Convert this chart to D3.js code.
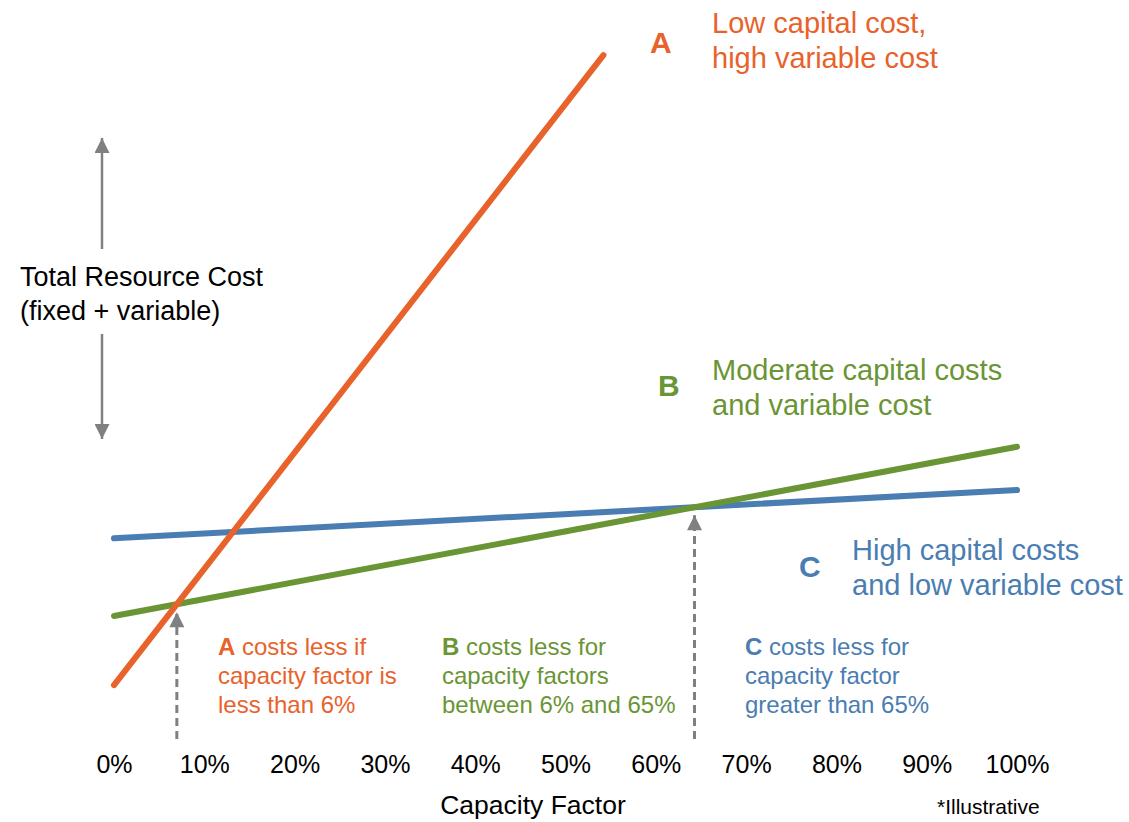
<!DOCTYPE html>
<html>
<head>
<meta charset="utf-8">
<script src="https://cdn.jsdelivr.net/npm/d3@7"></script>
<style>
  html, body { margin: 0; padding: 0; background: #fff; }
  svg text { font-family: "Liberation Sans", Arial, sans-serif; }
</style>
</head>
<body>
<svg id="chart" width="1129" height="822"></svg>
<script>
// Capacity factor (%) tick values and labels
const ticks = [0, 10, 20, 30, 40, 50, 60, 70, 80, 90, 100];
const tickLabels = ticks.map(t => t + "%");

// Illustrative total cost (arbitrary units) at the ends of each resource line
const seriesA = [[0, 10.4], [54.2, 97.9]];
const seriesB = [[0, 20.0], [100, 43.5]];
const seriesC = [[0, 30.8], [100, 37.5]];

const colors = { A: "#E8622B", B: "#6A9535", C: "#4A7DB1" };
const grey = "#808080";

const svg = d3.select("#chart");
const x = d3.scaleLinear().domain([0, 100]).range([114, 1017]);
const y = d3.scaleLinear().domain([0, 100]).range([760, 40]);

const defs = svg.append("defs");
defs.append("marker")
  .attr("id", "head")
  .attr("viewBox", "0 0 10 10")
  .attr("refX", 10).attr("refY", 5)
  .attr("markerUnits", "userSpaceOnUse")
  .attr("markerWidth", 16).attr("markerHeight", 15)
  .attr("orient", "auto")
  .append("path").attr("d", "M0,0 L10,5 L0,10 Z").attr("fill", grey);

// Vertical cost indicator arrows
svg.append("line").attr("x1", 102).attr("x2", 102).attr("y1", 249).attr("y2", 138)
  .attr("stroke", grey).attr("stroke-width", 2.5).attr("marker-end", "url(#head)");
svg.append("line").attr("x1", 102).attr("x2", 102).attr("y1", 334).attr("y2", 439)
  .attr("stroke", grey).attr("stroke-width", 2.5).attr("marker-end", "url(#head)");

svg.append("text").attr("x", 20).attr("y", 286).attr("font-size", 27).attr("fill", "#000")
  .text("Total Resource Cost");
svg.append("text").attr("x", 20).attr("y", 320).attr("font-size", 27).attr("fill", "#000")
  .text("(fixed + variable)");

// Crossover points between lines
function cross(p, q) {
  const s1 = (p[1][1] - p[0][1]) / (p[1][0] - p[0][0]);
  const s2 = (q[1][1] - q[0][1]) / (q[1][0] - q[0][0]);
  const cx = (q[0][1] - p[0][1]) / (s1 - s2);
  return [cx, p[0][1] + s1 * cx];
}
const abCross = cross(seriesA, seriesB);
const bcCross = cross(seriesB, seriesC);

// Dashed arrows pointing up at the crossovers
[abCross, bcCross].forEach(c => {
  svg.append("line")
    .attr("x1", x(c[0])).attr("x2", x(c[0]))
    .attr("y1", 739).attr("y2", y(c[1]) + 8)
    .attr("stroke", grey).attr("stroke-width", 3)
    .attr("stroke-dasharray", "8,5")
    .attr("marker-end", "url(#head)");
});

// Cost lines
const line = d3.line().x(d => x(d[0])).y(d => y(d[1]));
[[seriesC, colors.C], [seriesB, colors.B], [seriesA, colors.A]].forEach(([data, col]) => {
  svg.append("path").datum(data).attr("d", line)
    .attr("fill", "none").attr("stroke", col).attr("stroke-width", 6)
    .attr("stroke-linecap", "round");
});

// X axis tick labels
const xAxis = d3.axisBottom(x).tickValues(ticks)
  .tickFormat((d, i) => tickLabels[i]).tickSize(0).tickPadding(0);
const gx = svg.append("g").attr("transform", "translate(0,755)").call(xAxis);
gx.select(".domain").remove();
gx.selectAll("text").attr("font-size", 25).attr("fill", "#000")
  .attr("font-family", "Liberation Sans, Arial, sans-serif");

svg.append("text").attr("x", 533).attr("y", 814).attr("text-anchor", "middle")
  .attr("font-size", 26.5).attr("fill", "#000").text("Capacity Factor");
svg.append("text").attr("x", 937).attr("y", 814)
  .attr("font-size", 21).attr("fill", "#000").text("*Illustrative");

// Series labels
function seriesLabel(letter, lx, ly, tx, lines, ty, col) {
  svg.append("text").attr("x", lx).attr("y", ly).attr("font-size", 30)
    .attr("font-weight", "bold").attr("fill", col).text(letter);
  lines.forEach((t, i) => {
    svg.append("text").attr("x", tx).attr("y", ty + i * 35).attr("font-size", 29)
      .attr("fill", col).text(t);
  });
}
seriesLabel("A", 650, 53, 712, ["Low capital cost,", "high variable cost"], 33, colors.A);
seriesLabel("B", 658, 396, 712, ["Moderate capital costs", "and variable cost"], 380, colors.B);
seriesLabel("C", 799, 577, 852, ["High capital costs", "and low variable cost"], 560, colors.C);

// Range annotations
function note(tx, letter, lines, col) {
  lines.forEach((t, i) => {
    const txt = svg.append("text").attr("x", tx).attr("y", 655 + i * 29)
      .attr("font-size", 24).attr("fill", col);
    if (i === 0) {
      txt.append("tspan").attr("font-weight", "bold").text(letter);
      txt.append("tspan").text(" " + t);
    } else {
      txt.text(t);
    }
  });
}
note(218, "A", ["costs less if", "capacity factor is", "less than 6%"], colors.A);
note(442, "B", ["costs less for", "capacity factors", "between 6% and 65%"], colors.B);
note(745, "C", ["costs less for", "capacity factor", "greater than 65%"], colors.C);
</script>
</body>
</html>
